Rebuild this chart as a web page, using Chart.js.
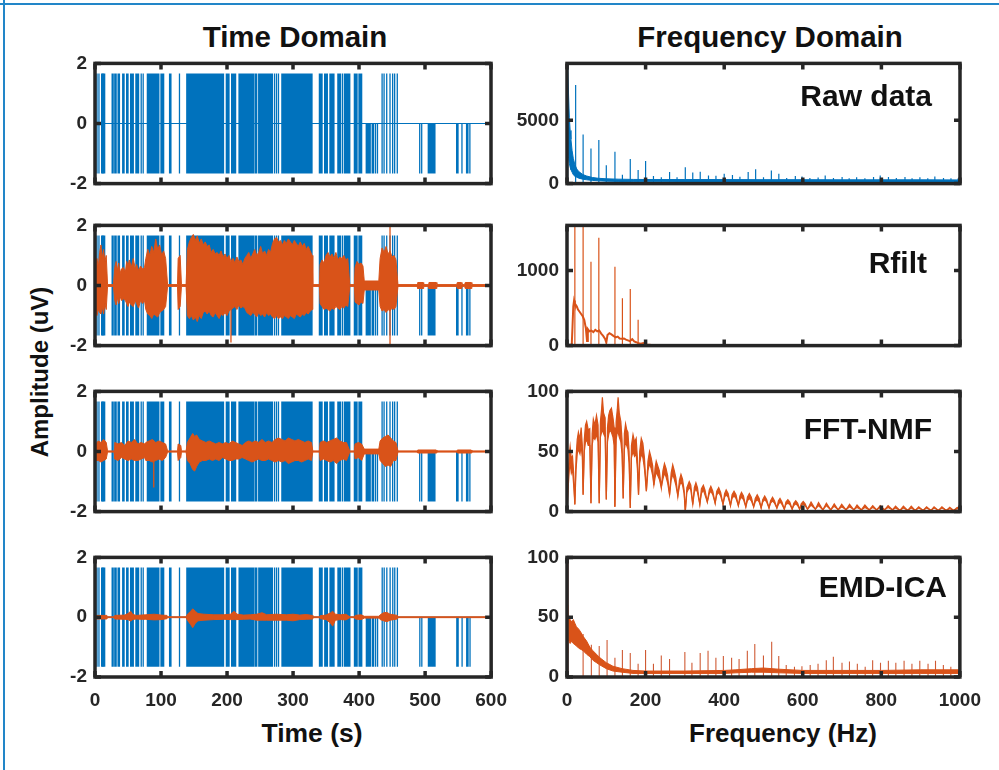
<!DOCTYPE html>
<html>
<head>
<meta charset="utf-8">
<script src="https://cdn.jsdelivr.net/npm/chart.js@4"></script>
<style>
body { margin: 0; background: #fff; }
#page { position: relative; width: 999px; height: 770px; overflow: hidden; background: #fff;
        font-family: "Liberation Sans", Arial, sans-serif; font-weight: bold; color: #111; }
canvas { position: absolute; }
.lbl { position: absolute; white-space: nowrap; line-height: 1; }
.c { transform: translate(-50%, -50%); }
.r { transform: translateY(-50%); }
.edge { position: absolute; background: #2286c8; }
</style>
</head>
<body>
<div id="page">
  <div class="edge" style="left:0;top:3px;width:999px;height:2px"></div>
  <div class="edge" style="left:3px;top:0;width:2px;height:770px"></div>
  <div class="lbl c" style="left:295px;top:37px;font-size:29.5px">Time Domain</div>
  <div class="lbl c" style="left:770px;top:37px;font-size:29.5px">Frequency Domain</div>
  <div class="lbl c" style="left:40px;top:372px;font-size:24px;transform:translate(-50%,-50%) rotate(-90deg)">Amplitude (uV)</div>
  <div class="lbl c" style="left:312px;top:733px;font-size:26.5px">Time (s)</div>
  <div class="lbl c" style="left:783px;top:733px;font-size:26px">Frequency (Hz)</div>
</div>
<script>
// ---- axes / ticks ----
const timeTicks = [0, 100, 200, 300, 400, 500, 600];
const freqTicks = [0, 200, 400, 600, 800, 1000];
const ampTicks = [-2, 0, 2];
const rawTicks = [0, 5000];
const rfiltTicks = [0, 1000];
const pctTicks = [0, 50, 100];
const panelNames = ['Raw data', 'Rfilt', 'FFT-NMF', 'EMD-ICA'];

// ---- time domain, raw signal (blue) ----
const rawBlocks = [[9, 16], [78, 98], [138, 196], [217, 242], [247, 270], [282, 330]];
const rawSpikes = [3, 6, 12, 26, 27.5, 30, 32, 35, 37, 42, 44, 48, 50, 54, 56, 58, 62, 64, 66, 70, 73,
  100, 102, 104, 113, 115, 128, 199, 201, 203, 207, 209, 211, 213, 243, 245, 272, 275, 278,
  340, 342, 344, 348, 350, 352, 356, 358, 360, 362, 368, 370, 372, 375, 378, 380, 382, 384, 386,
  393, 395, 397, 400, 402, 404, 435, 438, 442, 447, 451, 454, 458];
const rawDownSpikes = [411, 413, 415, 417, 420, 422, 425, 428, 492, 495, 505, 507, 509, 511, 513, 515,
  548, 550, 556, 563, 565, 568];

// ---- time domain, cleaned signals (orange): [t, upper, lower] ----
const rfiltEnv = [
  [0, 0, 0], [1, .7, -.9], [3, .9, -1], [5, .6, -.8], [7, 1.1, -.9], [9, 1.35, -.95], [11, .9, -.7], [13, 1.2, -.95],
  [15, .8, -.6], [17, 1, -.8], [19, .03, -.03], [28, .03, -.03], [30, .6, -.5], [32, .8, -.65], [34, .5, -.4],
  [36, .75, -.6], [38, .4, -.35], [40, .55, -.5], [43, .6, -.45], [46, .45, -.5], [48, .8, -.6], [50, .65, -.7],
  [52, .85, -.55], [55, .6, -.65], [58, .9, -.7], [61, .55, -.5], [63, .7, -.6], [66, .5, -.75], [69, .65, -.5],
  [72, .55, -.6], [75, .6, -.5], [77, .9, -.8], [80, 1.2, -.95], [83, 1, -1], [86, 1.3, -1.1], [89, 1.1, -.95],
  [92, 1.55, -1], [95, 1.2, -1.05], [98, 1.35, -.9], [101, 1, -.85], [104, 1.15, -.8], [107, .9, -.7],
  [110, .03, -.03], [125, .03, -.03], [126, .9, -.8], [129, 1, -.7], [131, .03, -.03], [138, .03, -.03],
  [140, 1.2, -1], [143, 1.45, -1.1], [146, 1.6, -1], [149, 1.7, -1.15], [152, 1.5, -1.05], [155, 1.65, -1.2],
  [158, 1.4, -1], [161, 1.55, -1.1], [164, 1.35, -.9], [167, 1.45, -.85], [170, 1.3, -.95], [173, 1.35, -.85],
  [176, 1.1, -1], [179, 1.2, -1.05], [182, 1.05, -.9], [185, 1.1, -1], [188, 1, -1.1], [191, 1.15, -.95],
  [194, .95, -1], [197, 1.05, -.9], [200, .9, -1], [203, 1, -.85], [206, .8, -.8], [209, .9, -.75],
  [212, .75, -.7], [215, .95, -.8], [218, .8, -.65], [221, .85, -.75], [224, .7, -.7], [227, .9, -.75],
  [230, 1, -.9], [233, 1.1, -.95], [236, .9, -1], [239, 1.05, -.9], [242, 1.2, -.95], [245, 1, -1.05],
  [248, 1.1, -.9], [251, 1.3, -1], [254, 1.05, -.95], [257, 1.15, -1.05], [260, 1, -.9], [263, 1.2, -1],
  [266, 1.1, -.95], [269, 1.4, -1.05], [272, 1.55, -1.1], [275, 1.6, -1], [278, 1.45, -1.1], [281, 1.5, -1.05],
  [284, 1.35, -1.1], [287, 1.5, -1], [290, 1.4, -1.05], [293, 1.55, -1.1], [296, 1.45, -1], [299, 1.35, -1.05],
  [302, 1.5, -1.1], [305, 1.4, -.95], [308, 1.3, -1], [311, 1.45, -1.05], [314, 1.3, -.95], [317, 1.4, -1],
  [320, 1.2, -.9], [323, 1.3, -.95], [326, 1.15, -.85], [329, 1, -.8], [330, .03, -.03], [340, .03, -.03],
  [341, .7, -.6], [344, .85, -.7], [347, .75, -.8], [350, 1, -.75], [353, 1.1, -.8], [356, .95, -.85],
  [359, 1.05, -.75], [362, .9, -.8], [365, 1.1, -.7], [368, .85, -.75], [371, .95, -.8], [374, .9, -.7],
  [377, 1, -.75], [380, .85, -.65], [383, .9, -.7], [386, .03, -.03], [393, .03, -.03], [394, .6, -.55],
  [397, .8, -.6], [400, .7, -.65], [403, .75, -.55], [406, .65, -.6], [408, .15, -.15], [430, .15, -.15],
  [432, .9, -.7], [435, 1.25, -.85], [438, 1.1, -.8], [441, 1.3, -.9], [444, 1.05, -.8], [447, 1.15, -.85],
  [450, .95, -.75], [453, 1, -.8], [456, .85, -.7], [459, .03, -.03], [488, .03, -.03], [489, .1, -.1],
  [497, .1, -.1], [498, .03, -.03], [505, .03, -.03], [506, .1, -.1], [517, .1, -.1], [518, .03, -.03],
  [548, .03, -.03], [549, .1, -.1], [555, .1, -.1], [556, .03, -.03], [560, .03, -.03], [561, .1, -.1],
  [570, .1, -.1], [571, .03, -.03], [600, .03, -.03]];
const rfiltSpikes = [[206, .6, -1.9], [447, 2, -1.95]];

const nmfEnv = [
  [0, 0, 0], [1, .25, -.3], [5, .35, -.3], [9, .3, -.35], [13, .4, -.3], [17, .3, -.25], [19, .02, -.02],
  [29, .02, -.02], [30, .3, -.25], [35, .25, -.3], [40, .3, -.2], [45, .2, -.25], [50, .35, -.3], [55, .3, -.25],
  [60, .4, -.3], [65, .25, -.3], [70, .3, -.25], [75, .25, -.2], [77, .3, -.3], [82, .35, -.3], [87, .4, -.35],
  [92, .3, -.3], [97, .35, -.25], [102, .3, -.3], [107, .25, -.2], [110, .02, -.02], [125, .02, -.02],
  [126, .25, -.3], [130, .2, -.2], [131, .02, -.02], [138, .02, -.02], [140, .3, -.3], [144, .45, -.4],
  [148, .6, -.6], [151, .5, -.65], [154, .55, -.5], [158, .4, -.35], [163, .35, -.3], [168, .3, -.3],
  [173, .35, -.25], [178, .3, -.3], [183, .25, -.25], [188, .3, -.3], [193, .25, -.2], [198, .3, -.25],
  [203, .25, -.3], [208, .35, -.3], [213, .3, -.25], [218, .25, -.25], [223, .2, -.2], [228, .3, -.25],
  [233, .35, -.3], [238, .3, -.35], [243, .35, -.3], [248, .3, -.25], [253, .4, -.3], [258, .3, -.3],
  [263, .35, -.25], [268, .3, -.3], [273, .4, -.35], [278, .45, -.3], [283, .4, -.35], [288, .35, -.3],
  [293, .45, -.4], [298, .4, -.35], [303, .35, -.3], [308, .4, -.3], [313, .35, -.35], [318, .3, -.3],
  [323, .35, -.25], [328, .3, -.3], [330, .02, -.02], [340, .02, -.02], [341, .3, -.3], [346, .35, -.25],
  [351, .3, -.3], [356, .35, -.35], [361, .4, -.3], [366, .45, -.4], [371, .35, -.3], [376, .3, -.25],
  [381, .3, -.3], [386, .02, -.02], [393, .02, -.02], [394, .25, -.25], [399, .3, -.2], [404, .25, -.3],
  [408, .08, -.08], [430, .08, -.08], [432, .35, -.3], [436, .45, -.4], [440, .5, -.5], [444, .55, -.45],
  [448, .45, -.5], [452, .35, -.3], [456, .3, -.3], [459, .02, -.02], [488, .02, -.02], [489, .05, -.05],
  [517, .05, -.05], [518, .02, -.02], [548, .02, -.02], [549, .05, -.05], [570, .05, -.05], [571, .02, -.02],
  [600, .02, -.02]];
const nmfSpikes = [[89, .2, -1.2]];

const emdEnv = [
  [0, .06, -.06], [18, .06, -.06], [19, .015, -.015], [29, .015, -.015], [30, .06, -.06], [45, .07, -.07],
  [50, .12, -.08], [54, .2, -.13], [57, .1, -.08], [62, .06, -.06], [70, .07, -.07], [77, .08, -.07],
  [90, .1, -.09], [100, .07, -.08], [109, .06, -.05], [110, .015, -.015], [138, .015, -.015], [140, .1, -.1],
  [145, .2, -.25], [148, .28, -.35], [152, .2, -.2], [156, .12, -.12], [165, .1, -.1], [180, .08, -.08],
  [195, .08, -.07], [205, .1, -.08], [211, .2, -.08], [215, .1, -.08], [225, .07, -.07], [235, .08, -.06],
  [245, .1, -.1], [253, .15, -.1], [260, .08, -.1], [275, .1, -.1], [290, .08, -.1], [300, .1, -.12],
  [310, .07, -.08], [320, .09, -.07], [329, .06, -.06], [330, .015, -.015], [340, .015, -.015],
  [341, .05, -.05], [350, .07, -.08], [357, .15, -.2], [360, .2, -.3], [364, .1, -.1], [372, .08, -.08],
  [380, .1, -.09], [386, .015, -.015], [393, .015, -.015], [394, .06, -.06], [403, .08, -.08],
  [408, .03, -.03], [430, .03, -.03], [432, .08, -.08], [437, .15, -.12], [442, .16, -.15], [447, .1, -.1],
  [458, .06, -.06], [459, .015, -.015], [600, .015, -.015]];

// ---- frequency domain ----
const rawBase = [
  [0, 9500, 0], [2, 9000, 2500], [4, 7000, 2000], [6, 5200, 1600], [8, 4200, 1300], [10, 3500, 1100],
  [13, 2600, 900], [16, 2000, 700], [20, 1500, 580], [25, 1150, 500], [30, 950, 430],
  [40, 720, 350], [50, 600, 300], [65, 480, 250], [80, 420, 220], [100, 380, 190], [130, 350, 170],
  [170, 330, 150], [220, 320, 140], [300, 320, 130], [400, 320, 130], [500, 310, 120], [600, 310, 120],
  [700, 300, 120], [800, 300, 110], [900, 300, 110], [1000, 290, 110]];
const rawHarm = [
  [22, 7790], [41, 3890], [61, 2780], [81, 3450], [100, 1450], [122, 2520], [141, 700], [161, 1950],
  [181, 1070], [200, 1790], [220, 600], [240, 500], [261, 910], [280, 500], [301, 1300], [320, 880],
  [339, 930], [360, 650], [379, 620], [400, 780], [421, 680], [440, 550], [461, 910], [480, 1140],
  [500, 500], [520, 1030], [539, 780], [559, 450], [581, 600], [598, 570], [618, 450], [639, 480],
  [657, 650], [678, 450], [700, 520], [718, 420], [737, 500], [758, 420], [780, 520], [797, 650],
  [818, 520], [838, 450], [860, 520], [878, 420], [898, 500], [918, 420], [936, 560], [958, 450],
  [977, 420], [995, 400]];

const rfiltSpec = [
  [0, 0], [12, 0], [14, 250], [16, 520], [18, 600], [20, 560], [25, 520], [28, 480], [32, 450], [36, 420],
  [40, 390], [44, 340], [48, 230], [51, 60], [53, 220], [57, 190], [62, 200], [67, 180], [72, 210], [77, 190],
  [82, 200], [87, 160], [92, 130], [97, 90], [100, 40], [103, 140], [108, 165], [113, 150], [118, 130],
  [124, 110], [129, 120], [134, 95], [139, 90], [145, 95], [150, 80], [155, 70], [160, 60], [166, 85],
  [171, 55], [176, 45], [182, 30], [188, 25], [194, 35], [200, 15], [210, 12], [220, 6], [235, 8], [250, 4],
  [270, 2], [300, 0], [1000, 0]];
const rfiltHarm = [[20, 2000], [41, 2000], [61, 1115], [81, 1437], [122, 1050], [141, 630], [161, 754], [181, 344]];

// [f, upper, lower] of the dense trace
const nmfSpec = [
  [0, 0, 0], [3, 30, 20], [6, 48, 35], [8, 54, 40], [11, 44, 32], [14, 46, 35], [17, 32, 22], [20, 6, 6],
  [23, 45, 35], [26, 60, 48], [29, 66, 52], [33, 60, 48], [36, 70, 55], [39, 55, 45], [41, 14, 14],
  [44, 60, 50], [47, 72, 58], [50, 75, 60], [54, 68, 55], [58, 69, 55], [61, 7, 7], [64, 65, 55],
  [67, 77, 62], [71, 72, 60], [75, 80, 64], [79, 72, 58], [82, 7, 7], [85, 75, 62], [88, 85, 66],
  [90, 95, 68], [93, 82, 65], [97, 78, 62], [100, 10, 10], [103, 70, 58], [106, 80, 64], [109, 84, 68],
  [113, 86, 66], [117, 78, 62], [120, 70, 55], [122, 4, 4], [125, 75, 60], [128, 85, 66], [130, 95, 66],
  [133, 82, 62], [137, 75, 58], [140, 60, 48], [143, 11, 11], [146, 65, 52], [149, 73, 58], [152, 68, 55],
  [155, 66, 52], [158, 50, 40], [161, 3, 3], [164, 55, 45], [168, 64, 50], [172, 58, 46], [176, 61, 48],
  [179, 45, 36], [182, 14, 14], [185, 50, 40], [189, 61, 48], [193, 57, 45], [197, 45, 36], [202, 17, 17],
  [206, 42, 34], [210, 50, 40], [214, 45, 36], [218, 38, 30], [221, 22, 22], [224, 36, 28], [227, 42, 33],
  [231, 38, 30], [235, 34, 27], [240, 20, 20], [244, 34, 27], [248, 40, 32], [252, 36, 29], [256, 30, 24],
  [261, 14, 14], [265, 32, 26], [269, 39, 31], [273, 34, 27], [277, 28, 22], [282, 13, 13], [286, 26, 21],
  [290, 31, 25], [294, 27, 22], [298, 18, 15], [301, 0, 0], [305, 20, 16], [311, 25, 20], [315, 22, 18],
  [320, 6, 6], [324, 20, 16], [328, 24, 19], [332, 20, 16], [338, 6, 6], [342, 19, 15], [347, 22, 18],
  [351, 18, 14], [357, 8, 8], [362, 18, 15], [366, 21, 17], [371, 17, 14], [377, 7, 7], [381, 17, 14],
  [386, 20, 16], [391, 16, 13], [397, 6, 6], [401, 15, 12], [405, 18, 14], [410, 15, 12], [416, 5, 5],
  [420, 14, 11], [425, 17, 13], [430, 14, 11], [436, 5, 5], [440, 13, 10], [444, 16, 12], [449, 13, 10],
  [455, 4, 4], [459, 12, 9], [464, 15, 11], [469, 12, 9], [475, 4, 4], [479, 11, 8], [484, 14, 10],
  [489, 11, 8], [494, 3, 3], [498, 10, 8], [503, 13, 10], [508, 10, 8], [514, 3, 3], [518, 9, 7],
  [523, 12, 9], [528, 9, 7], [534, 3, 3], [538, 9, 6], [542, 11, 8], [547, 8, 6], [553, 2, 2], [557, 8, 6],
  [562, 10, 7], [567, 8, 6], [573, 2, 2], [577, 7, 5], [582, 9, 6.5], [587, 7, 5], [592, 2, 2], [596, 6.5, 5],
  [601, 8.5, 6], [606, 6.5, 5], [612, 2, 2], [621, 8, 5.5], [632, 2, 2], [640, 7.5, 5], [651, 1.5, 1.5],
  [660, 7, 5], [671, 1.5, 1.5], [680, 6.5, 4.5], [690, 1.5, 1.5], [699, 6, 4], [710, 1.5, 1.5],
  [719, 6, 4], [730, 1.5, 1.5], [738, 5.5, 3.5], [749, 1.5, 1.5], [758, 5.5, 3.5], [769, 1.5, 1.5],
  [778, 5, 3.5], [788, 1.5, 1.5], [797, 5, 3.5], [808, 1.5, 1.5], [817, 5, 3.5], [828, 1.5, 1.5],
  [836, 4.5, 3], [847, 1, 1], [856, 4.5, 3], [867, 1, 1], [876, 4.5, 3], [886, 1, 1], [895, 4, 3],
  [906, 1, 1], [915, 4, 3], [926, 1, 1], [934, 4, 3], [945, 1, 1], [954, 4, 3], [965, 1, 1], [974, 3.5, 2.5],
  [984, 1, 1], [993, 3.5, 2.5], [1000, 3, 2]];

const emdBase = [
  [0, 60, 20], [2, 52, 32], [5, 50, 30], [8, 48, 28], [12, 46, 30], [16, 48, 28], [20, 45, 27], [24, 42, 26],
  [30, 40, 24], [36, 37, 23], [41, 34, 22], [50, 30, 19], [58, 25, 17], [66, 22, 14], [75, 19, 12],
  [84, 16, 10], [100, 12, 7], [117, 9, 5], [140, 7, 4], [168, 5.5, 3], [200, 5, 3], [300, 5, 3], [400, 5.5, 3],
  [430, 6, 3.5], [470, 7, 4], [500, 7.5, 4], [540, 6.5, 3.5], [600, 5.5, 3], [700, 5.5, 3], [800, 5.5, 3],
  [900, 6, 3], [1000, 6, 3]];
const emdHarm = [
  [41, 36], [62, 27], [82, 26], [102, 31], [122, 16], [141, 22.5], [161, 20], [181, 11], [200, 22.5],
  [220, 11], [240, 18], [261, 15], [300, 21], [318, 12], [339, 20], [359, 22], [379, 16], [398, 17.5], [419, 16],
  [438, 15], [459, 22], [478, 27.5], [500, 18], [521, 29.5], [539, 17.5], [558, 10], [579, 8.6], [598, 9],
  [619, 10], [639, 11], [660, 14], [678, 17], [700, 12], [719, 13], [739, 11], [759, 8.6], [778, 14], [798, 12],
  [818, 13.6], [837, 12], [858, 13.6], [878, 11], [898, 13.6], [919, 11], [938, 13.6], [958, 10], [977, 8.6]];
const emdDc = [[2, 100]];

// ---- layout ----
const BLUE = '#0072BD';
const ORANGE = '#D95319';
const COL_X = [95, 567];
const PLOT_W = [396, 393];
const ROW_Y = [63, 225, 391, 557];
const PLOT_H = 120;
const LABEL_POS = [[932, 96], [927, 263], [932, 429], [947, 587]];

Chart.defaults.font.family = '"Liberation Sans", Arial, sans-serif';

function line(data, color, width, extra) {
    return Object.assign({ data, borderColor: color, borderWidth: width, pointRadius: 0,
        fill: false, tension: 0, spanGaps: false }, extra || {});
}

function vlines(rows) {
    const d = [];
    rows.forEach(r => { d.push({ x: r[0], y: r[1] }, { x: r[0], y: r[2] }, { x: r[0], y: null }); });
    return d;
}

function blueTime() {
    const blocks = [];
    rawBlocks.forEach(b => { blocks.push({ x: b[0], y: 1.66 }, { x: b[1], y: 1.66 }, { x: b[1], y: null }); });
    return [
        line([{ x: 0, y: 0 }, { x: 600, y: 0 }], BLUE, 1, { order: 5 }),
        line(blocks, BLUE, 0, { order: 5, fill: { value: -1.66 }, backgroundColor: BLUE }),
        line(vlines(rawSpikes.map(t => [t, -1.66, 1.66])), BLUE, 1.3, { order: 5 }),
        line(vlines(rawDownSpikes.map(t => [t, 0, -1.66])), BLUE, 1.3, { order: 5 })
    ];
}

function band(rows, color, width, order) {
    return [
        line(rows.map(r => ({ x: r[0], y: r[1] })), color, width, { order }),
        line(rows.map(r => ({ x: r[0], y: r[2] })), color, width, { order, fill: '-1', backgroundColor: color })
    ];
}

function spikes(rows, color, width, order) {
    return line(vlines(rows.map(r => [r[0], 0, r[1]])), color, width, { order });
}

const framePlugin = {
    id: 'frame',
    afterDatasetsDraw(chart) {
        const { ctx, chartArea: a, scales: { x, y } } = chart;
        ctx.save();
        ctx.strokeStyle = '#262626';
        ctx.lineWidth = 3.5;
        ctx.strokeRect(a.left, a.top, a.right - a.left, a.bottom - a.top);
        ctx.beginPath();
        x.ticks.forEach(t => {
            const px = x.getPixelForValue(t.value);
            ctx.moveTo(px, a.top); ctx.lineTo(px, a.top + 6);
            ctx.moveTo(px, a.bottom); ctx.lineTo(px, a.bottom - 6);
        });
        y.ticks.forEach(t => {
            const py = y.getPixelForValue(t.value);
            ctx.moveTo(a.left, py); ctx.lineTo(a.left + 6, py);
            ctx.moveTo(a.right, py); ctx.lineTo(a.right - 6, py);
        });
        ctx.stroke();
        ctx.restore();
    }
};

function panel(col, row, datasets, yMin, yMax, yTicks) {
    const page = document.getElementById('page');
    const bottom = row === 3;
    const xMax = col === 0 ? 600 : 1000;
    const xTicks = col === 0 ? timeTicks : freqTicks;
    const xh = bottom ? 44 : 0;
    const cw = 70 + PLOT_W[col] + 30, ch = 14 + PLOT_H + xh + 14;
    const c = document.createElement('canvas');
    c.width = cw; c.height = ch;
    c.style.width = cw + 'px'; c.style.height = ch + 'px';
    page.appendChild(c);
    const tickFont = { size: 19, weight: 'bold' };
    const chart = new Chart(c, {
        type: 'line',
        data: { datasets },
        options: {
            responsive: false,
            maintainAspectRatio: false,
            animation: false,
            events: [],
            layout: { padding: { top: 2, right: 2, bottom: 2, left: 0 } },
            plugins: { legend: { display: false }, tooltip: { enabled: false } },
            scales: {
                x: {
                    type: 'linear', min: 0, max: xMax,
                    afterBuildTicks: s => { s.ticks = xTicks.map(v => ({ value: v })); },
                    afterFit: s => { s.height = xh; },
                    grid: { display: false, drawTicks: false },
                    border: { display: false },
                    ticks: { display: bottom, padding: 12, color: '#262626', font: tickFont,
                        maxRotation: 0, autoSkip: false, callback: v => String(v) }
                },
                y: {
                    type: 'linear', min: yMin, max: yMax,
                    afterBuildTicks: s => { s.ticks = yTicks.map(v => ({ value: v })); },
                    afterFit: s => { s.width = 70; },
                    grid: { display: false, drawTicks: false },
                    border: { display: false },
                    ticks: { padding: 8, color: '#262626', font: tickFont, callback: v => String(v) }
                }
            }
        },
        plugins: [framePlugin]
    });
    // fit the canvas so the plot box lands exactly on the reference frame
    let a = chart.chartArea;
    const nw = Math.round(cw + PLOT_W[col] - (a.right - a.left));
    const nh = Math.round(ch + PLOT_H - (a.bottom - a.top));
    if (nw !== cw || nh !== ch) chart.resize(nw, nh);
    a = chart.chartArea;
    c.style.left = Math.round(COL_X[col] - a.left) + 'px';
    c.style.top = Math.round(ROW_Y[row] - a.top) + 'px';
}

// time domain column
panel(0, 0, blueTime(), -2, 2, ampTicks);
panel(0, 1, [...band(rfiltEnv, ORANGE, 1, 1), line(vlines(rfiltSpikes), ORANGE, 1.3, { order: 1 }), ...blueTime()], -2, 2, ampTicks);
panel(0, 2, [...band(nmfEnv, ORANGE, 1, 1), line(vlines(nmfSpikes), ORANGE, 1.3, { order: 1 }), ...blueTime()], -2, 2, ampTicks);
panel(0, 3, [...band(emdEnv, ORANGE, 1, 1), ...blueTime()], -2, 2, ampTicks);

// frequency domain column
panel(1, 0, [...band(rawBase, BLUE, 1, 1), spikes(rawHarm, BLUE, 1.2, 2)], 0, 9500, rawTicks);
panel(1, 1, [line(rfiltSpec.map(r => ({ x: r[0], y: r[1] })), ORANGE, 2, { order: 1 }), spikes(rfiltHarm, ORANGE, 1.2, 2)], 0, 1600, rfiltTicks);
panel(1, 2, band(nmfSpec, ORANGE, 1.2, 1), 0, 100, pctTicks);
panel(1, 3, [...band(emdBase, ORANGE, 1, 1), spikes(emdHarm, '#cf5a34', 1.1, 2), spikes(emdDc, '#7a3324', 1.6, 2)], 0, 100, pctTicks);

// panel names
panelNames.forEach((name, i) => {
    const d = document.createElement('div');
    d.className = 'lbl r';
    d.style.right = (999 - LABEL_POS[i][0]) + 'px';
    d.style.top = LABEL_POS[i][1] + 'px';
    d.style.fontSize = '30px';
    d.textContent = name;
    document.getElementById('page').appendChild(d);
});
</script>
</body>
</html>
